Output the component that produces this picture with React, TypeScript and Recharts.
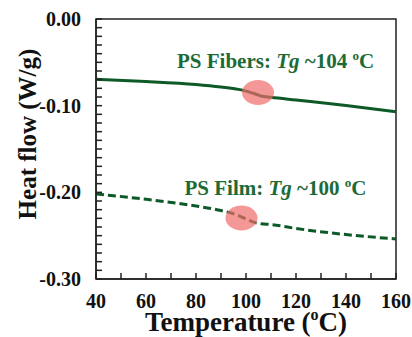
import { LineChart, Line, XAxis, YAxis, ReferenceArea, ReferenceDot, Label } from "recharts";

// temperature (°C) and heat flow (W/g)
const temps = [40, 60, 80, 90, 97, 100, 104, 106, 110, 120, 140, 160];
const fibers = [-0.0696, -0.0721, -0.0756, -0.0785, -0.0812, -0.0832, -0.0868, -0.0888, -0.0903, -0.0935, -0.0998, -0.107];
const film = [-0.2019, -0.208, -0.2158, -0.221, -0.2268, -0.2308, -0.2352, -0.2362, -0.2371, -0.2417, -0.2487, -0.2538];

const xTicks = [40, 50, 60, 70, 80, 90, 100, 110, 120, 130, 140, 150, 160];
const yTicks = [
  -0.3, -0.29, -0.28, -0.27, -0.26, -0.25, -0.24, -0.23, -0.22, -0.21,
  -0.2, -0.19, -0.18, -0.17, -0.16, -0.15, -0.14, -0.13, -0.12, -0.11,
  -0.1, -0.09, -0.08, -0.07, -0.06, -0.05, -0.04, -0.03, -0.02, -0.01, 0,
];

// highlighted Tg regions and their notes
const tgMarks = [
  { x: 104.8, y: -0.0848 },
  { x: 98.2, y: -0.2296 },
];
const notes = [
  { x: 72.4, y: -0.0565, name: "PS Fibers: ", tg: "~104 " },
  { x: 75.4, y: -0.2035, name: "PS Film: ", tg: "~100 " },
];

const data = temps.map((t, i) => ({ t, fibers: fibers[i], film: film[i] }));

const FONT = "'Liberation Serif', 'Times New Roman', serif";
const AXIS = "#222";
const LINE = "#0d5a28";
const TEXT = "#1c6a36";
const GAP = 15;

const Ellipse = (p: any) => (
  <ellipse cx={p.cx} cy={p.cy} rx={16} ry={12.5} fill="#f06b6b" fillOpacity={0.7} />
);

const noteShape = (n: typeof notes[number]) => (p: any) => (
  <text x={p.cx} y={p.cy} fill={TEXT} fontFamily={FONT} fontWeight="bold" fontSize={21}>
    {n.name}
    <tspan fontStyle="italic">Tg</tspan>
    {" " + n.tg}
    <tspan fontSize={13} dy={-8}>o</tspan>
    <tspan dy={8}>C</tspan>
  </text>
);

const XTitle = (p: any) => {
  const vb = p.viewBox;
  return (
    <text x={vb.x + vb.width / 2} y={331} textAnchor="middle" fill="#111" fontFamily={FONT} fontWeight="bold" fontSize={27}>
      Temperature (<tspan fontSize={16} dy={-11}>o</tspan>
      <tspan dy={11}>C)</tspan>
    </text>
  );
};

const fmtY = (v: number) => (Math.abs(v * 10 - Math.round(v * 10)) < 1e-6 ? v.toFixed(2) : "");
const fmtX = (v: number) => (v % 20 === 0 ? String(v) : "");

// inward tick marks drawn with each tick label
const YTick = (p: any) => {
  const x = Number(p.x);
  const y = Number(p.y);
  const label = fmtY(p.payload.value);
  return (
    <g>
      <path d={`M${x + GAP},${y}h6`} stroke={AXIS} strokeWidth={1.5} fill="none" />
      <text x={x} y={y} textAnchor="end" dominantBaseline="central" fill="#111" fontFamily={FONT} fontWeight="bold" fontSize={20}>
        {label}
      </text>
    </g>
  );
};

const XTick = (p: any) => {
  const x = Number(p.x);
  const y = Number(p.y);
  const label = fmtX(p.payload.value);
  return (
    <g>
      <path d={`M${x},${y - GAP}v-6`} stroke={AXIS} strokeWidth={1.5} fill="none" />
      <text x={x} y={y + 7} textAnchor="middle" dominantBaseline="central" fill="#111" fontFamily={FONT} fontWeight="bold" fontSize={20}>
        {label}
      </text>
    </g>
  );
};

export default function App() {
  return (
    <div style={{ position: "fixed", left: 0, top: 0, width: 412, height: 337, background: "#fff" }}>
      <div
        style={{
          position: "absolute",
          left: 27,
          top: 134,
          transform: "translate(-50%, -50%) rotate(-90deg)",
          whiteSpace: "nowrap",
          fontFamily: FONT,
          fontWeight: "bold",
          fontSize: 25,
          lineHeight: 1,
          color: "#111",
        }}
      >
        Heat flow (W/g)
      </div>
      <LineChart width={412} height={337} data={data} margin={{ top: 19, right: 16, left: 0, bottom: 0 }}>
        <XAxis
          dataKey="t"
          type="number"
          domain={[40, 160]}
          ticks={xTicks}
          height={58}
          stroke={AXIS}
          strokeWidth={1.5}
          tickLine={false}
          tickSize={0}
          tickMargin={GAP}
          tick={XTick}
          interval={0}
        >
          <Label content={XTitle} />
        </XAxis>
        <YAxis
          type="number"
          domain={[-0.3, 0]}
          ticks={yTicks}
          width={96}
          stroke={AXIS}
          strokeWidth={1.5}
          tickLine={false}
          tickSize={0}
          tickMargin={GAP}
          tick={YTick}
          interval={0}
        />
        <ReferenceArea x1={40} x2={160} y1={-0.3} y2={0} fill="none" stroke={AXIS} strokeWidth={1.5} />
        <Line type="monotone" dataKey="fibers" stroke={LINE} strokeWidth={3} dot={false} isAnimationActive={false} />
        <Line type="monotone" dataKey="film" stroke={LINE} strokeWidth={3} strokeDasharray="8 4" dot={false} isAnimationActive={false} />
        {tgMarks.map((m, i) => (
          <ReferenceDot key={"m" + i} x={m.x} y={m.y} r={1} shape={Ellipse} />
        ))}
        {notes.map((n, i) => (
          <ReferenceDot key={"n" + i} x={n.x} y={n.y} r={0} shape={noteShape(n)} />
        ))}
      </LineChart>
    </div>
  );
}
